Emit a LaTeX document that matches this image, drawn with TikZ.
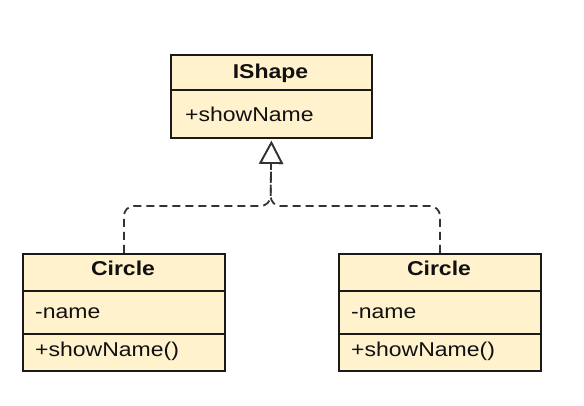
\documentclass[tikz,border=0pt]{standalone}
\usepackage{fontspec}
\setmainfont{Liberation Sans}[FakeStretch=1.15]
\usetikzlibrary{arrows.meta}
\definecolor{umlfill}{HTML}{FFF2CC}
\definecolor{boxline}{HTML}{1A1A1A}
\definecolor{connline}{HTML}{333333}
\definecolor{txt}{HTML}{111111}
\tikzset{
  comp/.style={draw=boxline, fill=umlfill, line width=1.9pt, inner sep=0pt, anchor=north west},
  title/.style={anchor=base, inner sep=0pt, text=txt, font=\fontsize{20}{24}\selectfont\bfseries},
  member/.style={anchor=base west, inner sep=0pt, text=txt, font=\fontsize{20}{24}\selectfont},
  conn/.style={draw=connline, line width=1.8pt, dash pattern=on 8pt off 5pt, rounded corners=10pt,
    -{Triangle[open, length=23pt, width=24pt, fill=white]}, shorten >=2pt}
}
\begin{document}
\begin{tikzpicture}[x=1pt, y=-1pt]
\useasboundingbox (0,0) rectangle (584,406);
% IShape
\node[comp, minimum width=201pt, minimum height=35pt] (ishapeh) at (170,54) {};
\node[comp, minimum width=201pt, minimum height=48pt] (ishapeb) at (170,89) {};
\node[title] (ishapet) at (270.5,79) {IShape};
\node[member] (ishapem) at (185,122) {+showName};
% Circle left
\node[comp, minimum width=202pt, minimum height=37pt] (c1h) at (22,253) {};
\node[comp, minimum width=202pt, minimum height=43pt] (c1a) at (22,290) {};
\node[comp, minimum width=202pt, minimum height=37pt] (c1m) at (22,333) {};
\node[title] (c1t) at (123,276) {Circle};
\node[member] (c1at) at (35,318) {-name};
\node[member] (c1mt) at (35,356) {+showName()};
% Circle right
\node[comp, minimum width=202pt, minimum height=37pt] (c2h) at (338,253) {};
\node[comp, minimum width=202pt, minimum height=43pt] (c2a) at (338,290) {};
\node[comp, minimum width=202pt, minimum height=37pt] (c2m) at (338,333) {};
\node[title] (c2t) at (439,276) {Circle};
\node[member] (c2at) at (351,318) {-name};
\node[member] (c2mt) at (351,356) {+showName()};
% connectors
\coordinate (j) at (270.5,206);
\draw[conn] (c1h.north) |- (j) -- (ishapeb.south);
\draw[conn] (c2h.north) |- (j) -- (ishapeb.south);
\end{tikzpicture}
\end{document}
